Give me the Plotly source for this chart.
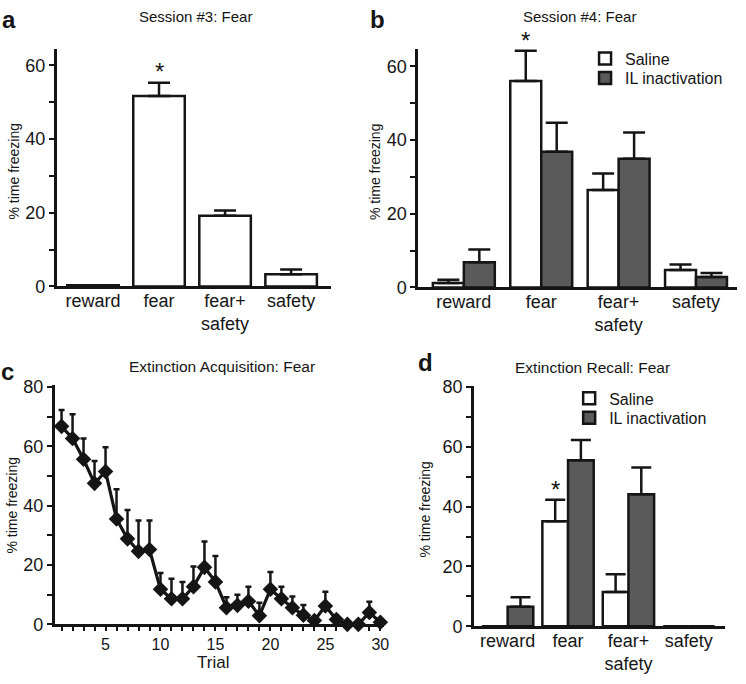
import plotly.graph_objects as go

# ---------------- data ----------------
categories = ["reward", "fear", "fear+<br>safety", "safety"]

# Panel a: Session #3
a_mean = [0.3, 51.7, 19.2, 3.3]
a_err = [0.0, 3.6, 1.4, 1.3]

# Panel b: Session #4
b_saline = [1.2, 56.0, 26.4, 4.7]
b_saline_err = [0.9, 8.2, 4.5, 1.5]
b_il = [6.8, 36.8, 34.9, 2.8]
b_il_err = [3.5, 7.9, 7.1, 1.1]

# Panel c: Extinction acquisition
trials = list(range(1, 31))
c_mean = [66.7, 62.6, 55.6, 47.5, 51.5, 35.5, 28.8, 24.6, 25.2, 11.8,
          8.6, 8.6, 12.7, 19.2, 14.3, 5.6, 6.4, 7.8, 2.9, 11.8,
          8.6, 5.6, 3.1, 1.3, 6.2, 1.6, 0.0, 0.0, 4.0, 0.7]
c_err = [5.5, 8.2, 7.0, 7.5, 8.2, 10.0, 9.7, 10.4, 9.8, 5.5,
         6.8, 5.7, 6.8, 8.7, 8.7, 3.5, 3.6, 4.9, 4.4, 5.8,
         4.1, 3.8, 3.4, 0.5, 4.8, 1.3, 0.0, 0.0, 3.6, 0.3]
c_ticklabels = ["" if t % 5 else str(t) for t in trials]

# Panel d: Extinction recall
d_saline = [0.0, 35.1, 11.5, 0.0]
d_saline_err = [0.0, 7.2, 5.9, 0.0]
d_il = [6.5, 55.5, 44.1, 0.0]
d_il_err = [3.2, 6.8, 9.0, 0.0]

y60_vals = [0, 10, 20, 30, 40, 50, 60]
y60_text = ["0", "", "20", "", "40", "", "60"]
y80_vals = [0, 10, 20, 30, 40, 50, 60, 70, 80]
y80_text = ["0", "", "20", "", "40", "", "60", "", "80"]

# ---------------- style ----------------
W, H = 746, 684
FONT = "Liberation Sans, Arial, sans-serif"
INK = "#151515"
GRAY = "#5a5a5a"
LW = 2.5


def px(p):
    return p / W


def py(p):
    return 1 - p / H


def ydom(top, bottom):
    return [py(bottom), py(top)]


fig = go.Figure()


def err(vals, half):
    return dict(type="data", array=vals, arrayminus=[0] * len(vals), symmetric=False,
                color=INK, thickness=LW, width=half, visible=True)


# Panel a
fig.add_trace(go.Bar(x=categories, y=a_mean, error_y=err(a_err, 11), width=0.78,
                     marker=dict(color="white", line=dict(color=INK, width=LW)),
                     xaxis="x", yaxis="y", showlegend=False))

# Panel b
fig.add_trace(go.Bar(x=categories, y=b_saline, error_y=err(b_saline_err, 11), name="Saline",
                     width=0.40, offset=-0.40,
                     marker=dict(color="white", line=dict(color=INK, width=LW)),
                     xaxis="x2", yaxis="y2", legend="legend"))
fig.add_trace(go.Bar(x=categories, y=b_il, error_y=err(b_il_err, 11), name="IL inactivation",
                     width=0.40, offset=0.0,
                     marker=dict(color=GRAY, line=dict(color=INK, width=LW)),
                     xaxis="x2", yaxis="y2", legend="legend3"))

# Panel c
fig.add_trace(go.Scatter(x=trials, y=c_mean, mode="lines+markers",
                         line=dict(color=INK, width=3.2),
                         marker=dict(symbol="diamond", size=12, color=INK),
                         error_y=err(c_err, 3), cliponaxis=False,
                         xaxis="x3", yaxis="y3", showlegend=False))

# Panel d
fig.add_trace(go.Bar(x=categories, y=d_saline, error_y=err(d_saline_err, 10), name="Saline",
                     width=0.425, offset=-0.425,
                     marker=dict(color="white", line=dict(color=INK, width=LW)),
                     xaxis="x4", yaxis="y4", legend="legend2"))
fig.add_trace(go.Bar(x=categories, y=d_il, error_y=err(d_il_err, 10), name="IL inactivation",
                     width=0.425, offset=0.0,
                     marker=dict(color=GRAY, line=dict(color=INK, width=LW)),
                     xaxis="x4", yaxis="y4", legend="legend4"))


def xcat(domain, rng, anchor):
    return dict(domain=domain, range=rng, anchor=anchor, type="category",
                showline=True, linecolor=INK, linewidth=LW, ticks="", ticklen=0,
                ticklabelstandoff=-4,
                showgrid=False, zeroline=False, fixedrange=True,
                tickfont=dict(family=FONT, size=18, color=INK))


def ylin(domain, rng, anchor, vals, text):
    return dict(domain=domain, range=rng, anchor=anchor,
                showline=True, linecolor=INK, linewidth=LW,
                ticks="outside", ticklen=5, tickwidth=2, tickcolor=INK,
                tickvals=vals, ticktext=text, showgrid=False, zeroline=False,
                fixedrange=True, tickfont=dict(family=FONT, size=18, color=INK))


def leg(x, y):
    return dict(x=px(x), y=py(y), xanchor="left", yanchor="middle",
                bgcolor="rgba(0,0,0,0)", font=dict(family=FONT, size=16, color=INK),
                itemclick=False, itemdoubleclick=False)


layout = dict(
    width=W, height=H, margin=dict(l=0, r=0, t=0, b=0),
    paper_bgcolor="white", plot_bgcolor="white",
    barmode="group", bargap=0.2,
    font=dict(family=FONT, color=INK),
    xaxis=xcat([px(57), px(333)], [-0.55, 3.6], "y"),
    yaxis=ylin(ydom(42, 286), [0, 64.5], "x", y60_vals, y60_text),
    xaxis2=xcat([px(421), px(742)], [-0.59, 3.53], "y2"),
    yaxis2=ylin(ydom(42, 287), [0, 64.7], "x2", y60_vals, y60_text),
    xaxis3=dict(domain=[px(55), px(387)], range=[0.37, 30.37], anchor="y3",
                showline=True, linecolor=INK, linewidth=LW,
                ticks="outside", ticklen=4, tickwidth=2, tickcolor=INK,
                tickvals=trials, ticktext=c_ticklabels, showgrid=False, zeroline=False,
                fixedrange=True, tickfont=dict(family=FONT, size=16, color=INK)),
    yaxis3=ylin(ydom(387, 633), [0, 80.7], "x3", y80_vals, y80_text),
    xaxis4=xcat([px(477), px(730)], [-0.56, 3.6], "y4"),
    yaxis4=ylin(ydom(388, 635), [0, 80.4], "x4", y80_vals, y80_text),
    legend=leg(589, 52),
    legend3=leg(589, 72),
    legend2=leg(573, 401),
    legend4=leg(573, 421),
)
fig.update_layout(**layout)

ann = []


def paper_text(text, x, y, size, bold=False, angle=0):
    ann.append(dict(text=f"<b>{text}</b>" if bold else text, x=px(x), y=py(y),
                    xref="paper", yref="paper", xanchor="center", yanchor="middle",
                    showarrow=False, textangle=angle,
                    font=dict(family=FONT, size=size, color=INK)))


paper_text("Session #3: Fear", 197, 9, 15)
paper_text("Session #4: Fear", 583, 9, 15)
paper_text("Extinction Acquisition: Fear", 224, 368, 15.5)
paper_text("Extinction Recall: Fear", 597, 369, 15.5)
paper_text("a", 9, 12, 24, bold=True)
paper_text("b", 380, 12, 24, bold=True)
paper_text("c", 8, 373, 24, bold=True)
paper_text("d", 428, 364, 24, bold=True)
paper_text("% time freezing", 14, 168, 14, angle=-90)
paper_text("% time freezing", 377, 168, 14, angle=-90)
paper_text("% time freezing", 12, 511, 14, angle=-90)
paper_text("% time freezing", 428, 515, 14, angle=-90)
paper_text("Trial", 214, 672, 17)

# significance stars (x on the category axis, y in page position)
for xr, xv, ypix in [("x", 1, 65), ("x2", 0.8, 33), ("x4", 0.7875, 494)]:
    ann.append(dict(text="*", x=xv, y=py(ypix), xref=xr, yref="paper", showarrow=False,
                    xanchor="center", yanchor="middle",
                    font=dict(family=FONT, size=24, color=INK)))

fig.update_layout(annotations=ann)
fig.write_html(
    "out.html",
    config={"displayModeBar": False},
    post_script="document.body.style.margin='0';document.body.style.overflow='hidden';",
)
